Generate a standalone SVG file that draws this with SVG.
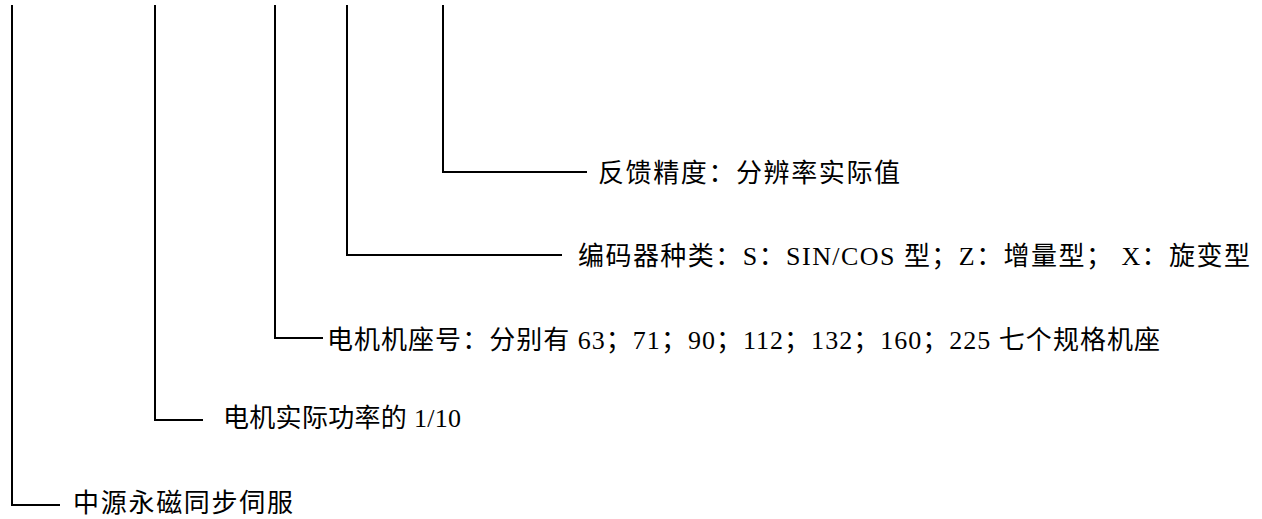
<svg xmlns="http://www.w3.org/2000/svg" width="1262" height="519" viewBox="0 0 1262 519">
<style>
.ln{fill:none;stroke:#000;stroke-width:2}
.t{font-family:"Liberation Serif","Noto Sans CJK SC",serif;font-size:26px;fill:#000}
</style>
<rect width="1262" height="519" fill="#fff"/>
<g id="connectors">
<polyline class="ln" points="443,5 443,172 587,172"/>
<polyline class="ln" points="347,5 347,255 562,255"/>
<polyline class="ln" points="275,5 275,338 323,338"/>
<polyline class="ln" points="155,5 155,420 203,420"/>
<polyline class="ln" points="12,5 12,505 60,505"/>
</g>
<g id="n-feedback"><text class="t" x="598" y="182" textLength="302" lengthAdjust="spacing">反馈精度：分辨率实际值</text></g>
<g id="n-encoder"><text class="t" x="578" y="265" textLength="672" lengthAdjust="spacing">编码器种类：S：SIN/COS 型；Z：增量型；  X：旋变型</text></g>
<g id="n-frame"><text class="t" x="327" y="349" textLength="833" lengthAdjust="spacing">电机机座号：分别有 63；71；90；112；132；160；225 七个规格机座</text></g>
<g id="n-power"><text class="t" x="223" y="427" textLength="238" lengthAdjust="spacing">电机实际功率的 1/10</text></g>
<g id="n-series"><text class="t" x="73" y="512" textLength="220" lengthAdjust="spacing">中源永磁同步伺服</text></g>
</svg>
